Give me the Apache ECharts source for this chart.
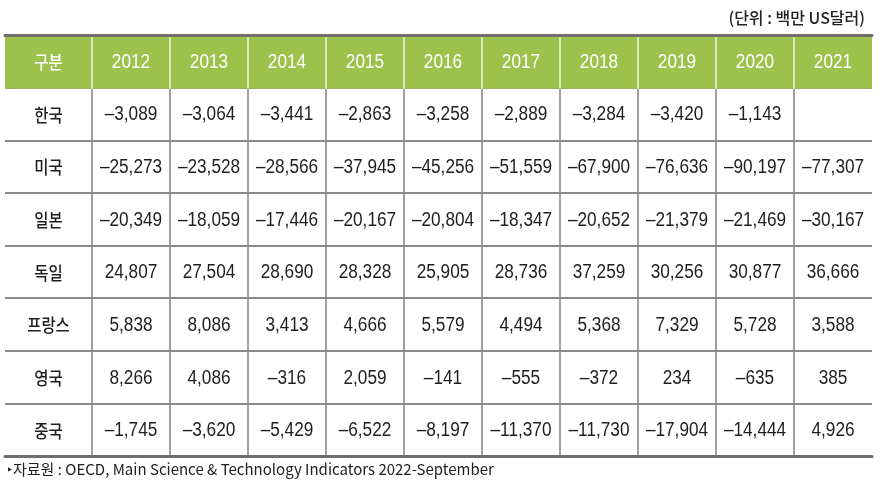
<!DOCTYPE html>
<html><head><meta charset="utf-8">
<script src="https://cdn.jsdelivr.net/npm/echarts@6/dist/echarts.min.js"></script>
<style>html,body{margin:0;padding:0;background:#fff}#c{width:888px;height:492px}</style>
</head><body><div id="c"></div>
<script>
const headerLabel = '구분';
const years = ['2012','2013','2014','2015','2016','2017','2018','2019','2020','2021'];
const countries = ['한국','미국','일본','독일','프랑스','영국','중국'];
const korea   = [-3089,-3064,-3441,-2863,-3258,-2889,-3284,-3420,-1143,null];
const usa     = [-25273,-23528,-28566,-37945,-45256,-51559,-67900,-76636,-90197,-77307];
const japan   = [-20349,-18059,-17446,-20167,-20804,-18347,-20652,-21379,-21469,-30167];
const germany = [24807,27504,28690,28328,25905,28736,37259,30256,30877,36666];
const france  = [5838,8086,3413,4666,5579,4494,5368,7329,5728,3588];
const uk      = [8266,4086,-316,2059,-141,-555,-372,234,-635,385];
const china   = [-1745,-3620,-5429,-6522,-8197,-11370,-11730,-17904,-14444,4926];
const unitText = '(단위 : 백만 US달러)';
const sourceText = '‣자료원 : OECD, Main Science & Technology Indicators 2022-September';

const rows = [korea, usa, japan, germany, france, uk, china];
const rowCats = [headerLabel].concat(countries);

function fmt(v){
  if (v === null || v === undefined) return '';
  const s = Math.abs(v).toLocaleString('en-US');
  return (v < 0 ? '–' : '') + s;
}

const NUM_FONT = '"Liberation Sans",Arial,sans-serif';
const KR_FONT = '"Noto Sans CJK KR",sans-serif';

const labelCells = rowCats.map((t, r) => ({value:[0, r], text:t, header:r===0}));
const dataCells = [];
years.forEach((y, c) => dataCells.push({value:[c, 0], text:y, header:true}));
rows.forEach((arr, r) => arr.forEach((v, c) => dataCells.push({value:[c, r+1], text:fmt(v), header:false})));

function makeRender(cells, leftSep){
  return function(params, api){
    const cell = cells[params.dataIndex];
    const c = api.value(0), r = api.value(1);
    const p = api.coord([c, r]);
    const s = api.size([1, 1]);
    const x0 = p[0] - s[0]/2, y0 = p[1] - s[1]/2;
    const ch = [];
    if (cell.header) {
      ch.push({type:'rect', shape:{x:x0, y:y0, width:s[0], height:s[1]+1}, style:{fill:'#9cc24b'}});
      if (leftSep) ch.push({type:'line', shape:{x1:x0, y1:y0, x2:x0, y2:y0+s[1]+1}, style:{stroke:'rgba(255,255,255,0.85)', lineWidth:1.5}});
    }
    const isKr = /[가-힣]/.test(cell.text);
    ch.push({type:'text', x: p[0], y: p[1] + 1, scaleX: isKr ? 0.86 : 0.86,
      style:{
        text: cell.text, x: 0, y: 0, align:'center', verticalAlign:'middle',
        fill: cell.header ? '#ffffff' : '#1e1e1e',
        font: isKr ? '500 18px ' + KR_FONT : '20px ' + NUM_FONT
      }});
    return {type:'group', children: ch};
  };
}

const splitY = {show:true, showMinLine:false, showMaxLine:false, lineStyle:{color:'#8a8a8a', width:2}};
const commonY = (gi) => ({type:'category', gridIndex:gi, data:rowCats, inverse:true,
  axisLine:{show:false}, axisTick:{show:false}, axisLabel:{show:false}, splitLine:splitY});
const bottomX = (gi, data, split) => ({type:'category', gridIndex:gi, data:data, position:'bottom',
  axisLine:{show:true, lineStyle:{color:'#6e6e6e', width:3}}, axisTick:{show:false}, axisLabel:{show:false},
  splitLine: split ? {show:true, showMinLine:true, showMaxLine:false, lineStyle:{color:'#8a8a8a', width:1.6}} : {show:false}});
const topX = (gi, data) => ({type:'category', gridIndex:gi, data:data, position:'top', z:10,
  axisLine:{show:true, lineStyle:{color:'#6e6e6e', width:3}}, axisTick:{show:false}, axisLabel:{show:false}, splitLine:{show:false}});

const chart = echarts.init(document.getElementById('c'), null, {renderer:'canvas'});
chart.setOption({
  animation:false,
  backgroundColor:'#ffffff',
  title:[
    {text:unitText, right:18, top:5, textStyle:{fontFamily:KR_FONT, fontSize:16, fontWeight:500, color:'#222'}},
    {text:sourceText, left:2, top:457, textStyle:{fontFamily:KR_FONT, fontSize:15, fontWeight:400, color:'#222'}}
  ],
  grid:[
    {left:5, width:87, top:35, bottom:36},
    {left:92, right:16, top:35, bottom:36}
  ],
  xAxis:[ bottomX(0, [headerLabel], false), topX(0, [headerLabel]), bottomX(1, years, true), topX(1, years) ],
  yAxis:[ commonY(0), commonY(1) ],
  series:[
    {type:'custom', xAxisIndex:0, yAxisIndex:0, renderItem:makeRender(labelCells, false), data:labelCells.map(d=>d.value)},
    {type:'custom', xAxisIndex:2, yAxisIndex:1, renderItem:makeRender(dataCells, true), data:dataCells.map(d=>d.value)}
  ]
});
</script></body></html>
